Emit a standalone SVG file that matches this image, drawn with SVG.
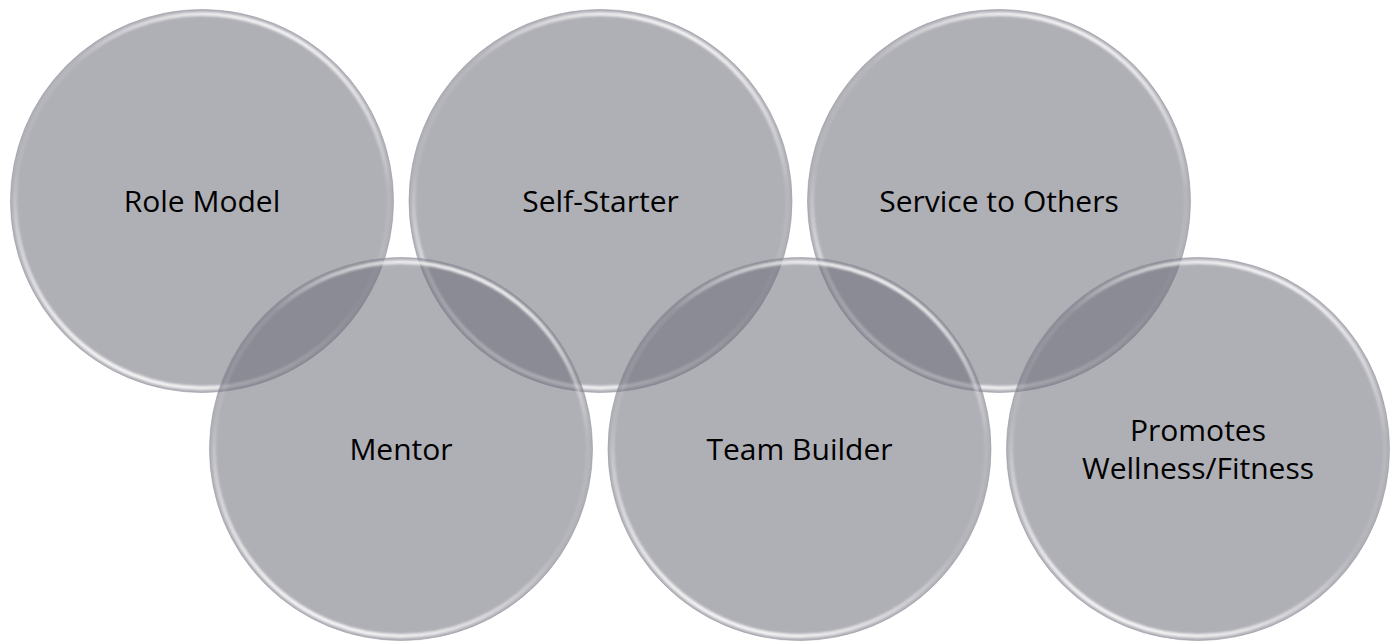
<svg xmlns="http://www.w3.org/2000/svg" width="1390" height="642" viewBox="0 0 1390 642">
<defs>
<linearGradient id="rim" x1="0.7" y1="0" x2="0.3" y2="1">
<stop offset="0" stop-color="#fff" stop-opacity="0.95"/>
<stop offset="0.3" stop-color="#fff" stop-opacity="0.1"/>
<stop offset="0.6" stop-color="#fff" stop-opacity="0.1"/>
<stop offset="1" stop-color="#fff" stop-opacity="0.95"/>
</linearGradient>
<filter id="soft" x="-5%" y="-5%" width="110%" height="110%"><feGaussianBlur stdDeviation="0.9"/></filter>
</defs>
<style>
.disc{fill:#6D6D7A;fill-opacity:0.55;stroke:#9a9aa6;stroke-width:1;stroke-opacity:0.6}
.ring{fill:none;stroke:url(#rim);stroke-width:4;filter:url(#soft)}
.lbl{font-family:"Open Sans","Noto Sans",sans-serif;font-size:30px;fill:#000;text-anchor:middle}
</style>
<rect width="1390" height="642" fill="#fff"/>
<g id="connectors"></g>
<g id="role-model">
<circle class="disc" cx="202" cy="201" r="191.5"/>
<circle class="ring" cx="202" cy="201" r="187"/>
<text class="lbl" x="202" y="212">Role Model</text>
</g>
<g id="self-starter">
<circle class="disc" cx="600.5" cy="201" r="191.5"/>
<circle class="ring" cx="600.5" cy="201" r="187"/>
<text class="lbl" x="600.5" y="212">Self-Starter</text>
</g>
<g id="service-to-others">
<circle class="disc" cx="999" cy="201" r="191.5"/>
<circle class="ring" cx="999" cy="201" r="187"/>
<text class="lbl" x="999" y="212">Service to Others</text>
</g>
<g id="mentor">
<circle class="disc" cx="401" cy="449" r="191.5"/>
<circle class="ring" cx="401" cy="449" r="187"/>
<text class="lbl" x="401" y="460">Mentor</text>
</g>
<g id="team-builder">
<circle class="disc" cx="799.5" cy="449" r="191.5"/>
<circle class="ring" cx="799.5" cy="449" r="187"/>
<text class="lbl" x="799.5" y="460">Team Builder</text>
</g>
<g id="promotes-wellness">
<circle class="disc" cx="1198" cy="449" r="191.5"/>
<circle class="ring" cx="1198" cy="449" r="187"/>
<text class="lbl" x="1198" y="441">Promotes</text>
<text class="lbl" x="1198" y="479">Wellness/Fitness</text>
</g>
</svg>
